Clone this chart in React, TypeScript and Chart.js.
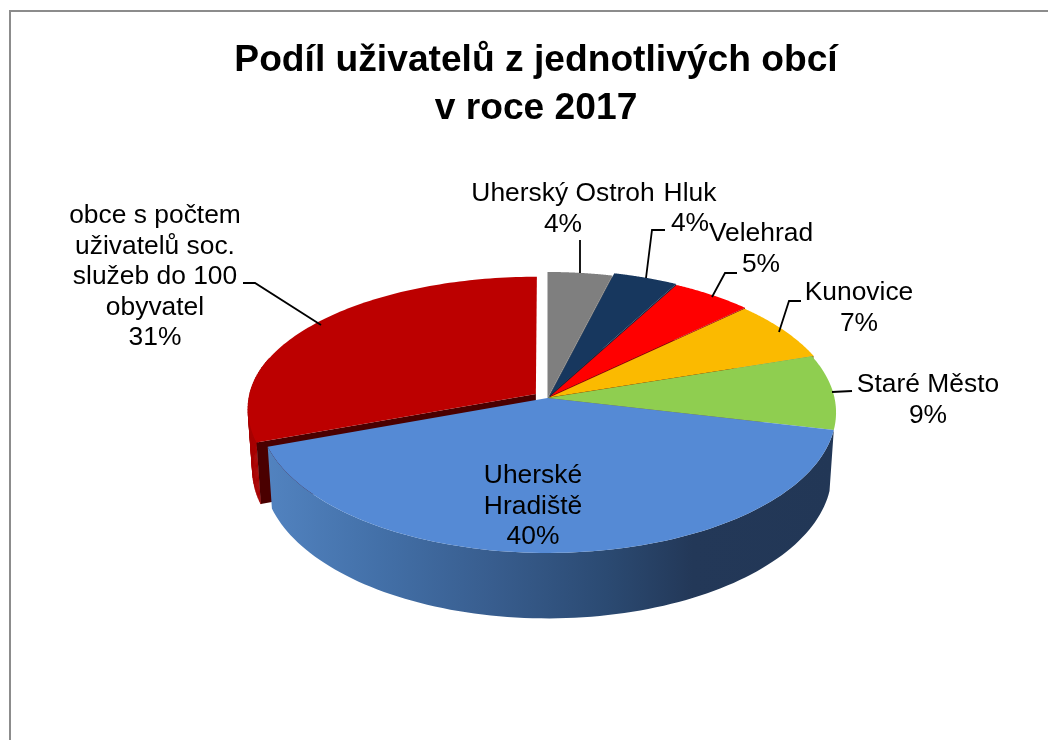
import React, { useEffect, useRef } from "react";
import { Chart, registerables } from "chart.js";

Chart.register(...registerables);

const categories = [
  "Uherský Ostroh",
  "Hluk",
  "Velehrad",
  "Kunovice",
  "Staré Město",
  "Uherské Hradiště",
  "obce s počtem uživatelů soc. služeb do 100 obyvatel",
];
const shareValues = [4, 4, 5, 7, 8.6, 40.9, 30.5];
const percentLabels = ["4%", "4%", "5%", "7%", "9%", "40%", "31%"];
const titleLines = ["Podíl uživatelů z jednotlivých obcí", "v roce 2017"];

const sliceColors = ["#7f7f7f", "#17375e", "#ff0000", "#fbba00", "#8fce50", "#558ad5", "#bc0000"];
const faceColors = ["#6e6e6e", "#0e2440", "#9c0000", "#8f6f00", "#8fce50", "#22375a", "#4a0000"];
const explode = [0, 6, 4, 2, 0, 0, 14];
const flatten = [1, 1, 1, 1, 1, 1, 0.93];

// label text layout: centre x, first line y (middle), wrapped lines
const labelLayout = [
  { x: 563, y: 194, lines: ["Uherský Ostroh", "4%"] },
  { x: 690, y: 194, lines: ["Hluk", "4%"], lh: 30 },
  { x: 761, y: 234, lines: ["Velehrad", "5%"] },
  { x: 859, y: 293, lines: ["Kunovice", "7%"] },
  { x: 928, y: 385, lines: ["Staré Město", "9%"] },
  { x: 533, y: 476, lines: ["Uherské", "Hradiště", "40%"] },
  { x: 155, y: 216, lines: ["obce s počtem", "uživatelů soc.", "služeb do 100", "obyvatel", "31%"] },
];
const leaders = [
  [[580, 240], [580, 273]],
  [[665, 230], [652, 230], [646, 278]],
  [[737, 273], [725, 273], [712, 297]],
  [[801, 301], [789, 301], [779, 332]],
  [[852, 391], [832, 392]],
  [[243, 283], [255, 283], [321, 325]],
];

const view = { cx: 547.5, cy: 398, R: 287, k: 139, p: 0.103 };

function project(u: number, v: number) {
  const w = 1 - view.p * v;
  return { x: view.cx + (view.R * u) / w, y: view.cy + (view.k * v) / w };
}
function lower(pt: { x: number; y: number }) {
  return {
    x: view.cx + (pt.x - view.cx) * 0.985,
    y: pt.y + 60 + (pt.y - view.cy) * 0.035,
  };
}

function sliceGeometry(arc: any, i: number) {
  const { startAngle, endAngle, outerRadius } = arc.getProps(["startAngle", "endAngle", "outerRadius"], true);
  const mid = (startAngle + endAngle) / 2;
  const d = (arc.options.offset || 0) / outerRadius;
  const ox = d * Math.cos(mid);
  const oy = d * Math.sin(mid);
  const f = flatten[i];
  const at = (a: number, r: number) => {
    const v = r * Math.sin(a);
    return project(r * Math.cos(a) + ox, (v < 0 ? v * f : v) + oy);
  };
  const rim: { x: number; y: number }[] = [];
  const steps = 96;
  for (let s = 0; s <= steps; s++) rim.push(at(startAngle + ((endAngle - startAngle) * s) / steps, 1));
  return { apex: at(0, 0), rim };
}

function fillPath(ctx: CanvasRenderingContext2D, pts: { x: number; y: number }[], fill: any) {
  ctx.beginPath();
  pts.forEach((p, i) => (i ? ctx.lineTo(p.x, p.y) : ctx.moveTo(p.x, p.y)));
  ctx.closePath();
  ctx.fillStyle = fill;
  ctx.fill();
}

const pie3d = {
  id: "pie3d",
  beforeDatasetDraw(chart: any, args: any) {
    const ctx: CanvasRenderingContext2D = chart.ctx;
    const arcs = chart.getDatasetMeta(args.index).data;
    const geo = arcs.map((a: any, i: number) => sliceGeometry(a, i));
    ctx.save();

    const cutFace = (i: number, tip: { x: number; y: number }) => {
      const g = geo[i];
      fillPath(ctx, [g.apex, tip, lower(tip), lower(g.apex)], faceColors[i]);
    };
    const outerWall = (i: number, fill: any) => {
      const g = geo[i];
      fillPath(ctx, [...g.rim, ...g.rim.map(lower).reverse()], fill);
    };
    // swept wall: every rim segment below the slice's upper part joined to its lowered copy
    const sweptWall = (i: number, fill: string) => {
      const r = geo[i].rim;
      ctx.strokeStyle = fill;
      ctx.lineWidth = 0.6;
      for (let s = 0; s < r.length - 1; s++) {
        if (r[s].y < view.cy - 40) continue;
        fillPath(ctx, [r[s], r[s + 1], lower(r[s + 1]), lower(r[s])], fill);
        ctx.stroke();
      }
    };

    // far slice first
    const last = arcs.length - 1;
    sweptWall(last, "#a80000");
    cutFace(last, geo[last].rim[0]);
    fillPath(ctx, [geo[last].apex, ...geo[last].rim], sliceColors[last]);

    // small slices at the back, each hiding the cut face of the one before
    for (let i = 0; i < last - 1; i++) {
      fillPath(ctx, [geo[i].apex, ...geo[i].rim], sliceColors[i]);
      if (i < last - 2) cutFace(i, geo[i].rim[geo[i].rim.length - 1]);
    }

    // front slice
    const front = last - 1;
    const grad = ctx.createLinearGradient(265, 0, 835, 0);
    grad.addColorStop(0, "#5283c0");
    grad.addColorStop(0.2, "#4370a8");
    grad.addColorStop(0.4, "#385d8e");
    grad.addColorStop(0.6, "#2b4a72");
    grad.addColorStop(0.75, "#233858");
    grad.addColorStop(1, "#223756");
    outerWall(front, grad);
    fillPath(ctx, [geo[front].apex, ...geo[front].rim], sliceColors[front]);

    ctx.restore();
    return false;
  },
  afterDraw(chart: any) {
    const ctx: CanvasRenderingContext2D = chart.ctx;
    ctx.save();
    // chart frame
    ctx.strokeStyle = "#8c8c8c";
    ctx.lineWidth = 2;
    ctx.beginPath();
    ctx.moveTo(10, 750);
    ctx.lineTo(10, 11);
    ctx.lineTo(1060, 11);
    ctx.stroke();
    // leader lines
    ctx.strokeStyle = "#000";
    ctx.lineWidth = 1.8;
    leaders.forEach((l) => {
      ctx.beginPath();
      l.forEach((p, i) => (i ? ctx.lineTo(p[0], p[1]) : ctx.moveTo(p[0], p[1])));
      ctx.stroke();
    });
    // data labels
    ctx.fillStyle = "#000";
    ctx.font = '26.4px "Liberation Sans"';
    ctx.textAlign = "center";
    ctx.textBaseline = "middle";
    labelLayout.forEach((l: any) => {
      l.lines.forEach((t: string, j: number) => ctx.fillText(t, l.x, l.y + j * (l.lh || 30.5)));
    });
    ctx.restore();
  },
};

export default function App() {
  const ref = useRef<HTMLCanvasElement>(null);
  useEffect(() => {
    const chart = new Chart(ref.current!, {
      type: "pie",
      data: {
        labels: categories.map((c, i) => `${c} ${percentLabels[i]}`),
        datasets: [
          {
            data: shareValues,
            backgroundColor: sliceColors,
            borderWidth: 0,
            offset: explode,
            hoverOffset: 0,
          },
        ],
      },
      options: {
        responsive: false,
        animation: false,
        events: [],
        layout: { padding: { left: 24, top: 27, bottom: 20 } },
        plugins: {
          legend: { display: false },
          tooltip: { enabled: false },
          title: {
            display: true,
            text: titleLines,
            color: "#000",
            font: { family: '"Liberation Sans"', size: 37.2, weight: "bold", lineHeight: 1.29 },
            padding: { top: 10, bottom: 10 },
          },
        },
      },
      plugins: [pie3d],
    } as any);
    return () => chart.destroy();
  }, []);
  return (
    <canvas
      ref={ref}
      width={1048}
      height={740}
      style={{ position: "fixed", left: 0, top: 0, display: "block", background: "#fff" }}
    />
  );
}
